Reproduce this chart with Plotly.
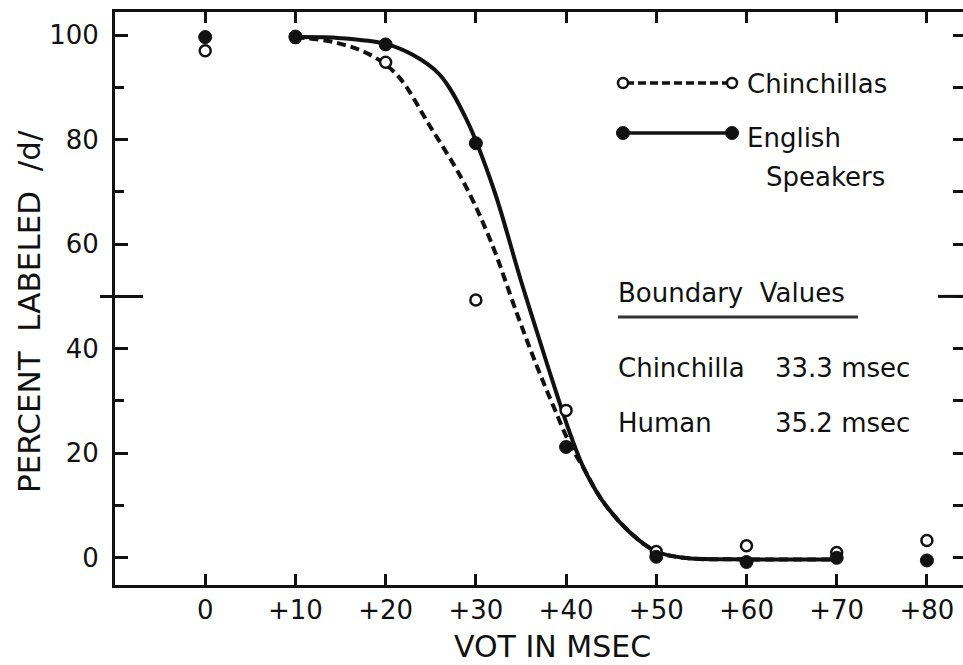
import plotly.graph_objects as go

# ---- data ----
vot_points = [0, 10, 20, 30, 40, 50, 60, 70, 80]
chinchilla_pct = [97.0, 99.5, 94.8, 49.3, 28.2, 1.2, 2.3, 1.0, 3.3]
english_pct = [99.6, 99.7, 98.2, 79.3, 21.2, 0.2, -0.8, 0.0, -0.5]

# smooth fitted curves
chin_curve_x = [10, 14.6, 18.3, 21.3, 24.9, 28.6, 31.6, 34.6, 36.8, 38.6, 40.5, 42, 44, 47, 50, 53, 60, 70]
chin_curve_y = [99.6, 98.5, 96.2, 92.3, 82.6, 72.0, 60.8, 46.5, 36.5, 29.0, 21.5, 17.0, 11.0, 5.0, 1.2, 0.0, -0.3, -0.3]
eng_curve_x = [10, 15, 20, 23, 26, 29, 32, 35, 38, 40.5, 42, 44, 47, 50, 53, 60, 70]
eng_curve_y = [99.6, 99.4, 98.3, 96.2, 92.4, 83.7, 70.4, 53.0, 36.5, 23.5, 17.0, 11.0, 5.0, 1.2, 0.0, -0.3, -0.3]

x_tickvals = [0, 10, 20, 30, 40, 50, 60, 70, 80]
x_ticktext = ["0", "+10", "+20", "+30", "+40", "+50", "+60", "+70", "+80"]
y_tickvals = [0, 20, 40, 60, 80, 100]

legend_lines = ["Chinchillas", "English", "Speakers"]
boundary_labels = ["Chinchilla", "Human"]
boundary_values = ["33.3 msec", "35.2 msec"]

# ---- layout geometry (pixels) ----
W, H = 963, 665
L, R, T, B = 115, 0, 12, 80
PW, PH = W - L - R, H - T - B


def px(xp):
    return (xp - L) / PW


def py(yp):
    return (H - B - yp) / PH


FONT = "DejaVu Sans"
BLACK = "#111111"

fig = go.Figure()

# curves
fig.add_trace(go.Scatter(x=chin_curve_x, y=chin_curve_y, mode="lines",
                         line=dict(color=BLACK, width=4, dash="9px,5px", shape="spline", smoothing=1.0),
                         hoverinfo="skip", showlegend=False))
fig.add_trace(go.Scatter(x=eng_curve_x, y=eng_curve_y, mode="lines",
                         line=dict(color=BLACK, width=4, shape="spline", smoothing=1.0),
                         hoverinfo="skip", showlegend=False))
# points
fig.add_trace(go.Scatter(x=vot_points, y=chinchilla_pct, mode="markers", name="Chinchillas",
                         marker=dict(symbol="circle", size=11, color="white",
                                     line=dict(color=BLACK, width=2.5)),
                         showlegend=False))
fig.add_trace(go.Scatter(x=vot_points, y=english_pct, mode="markers", name="English Speakers",
                         marker=dict(symbol="circle", size=13, color=BLACK,
                                     line=dict(color=BLACK, width=1)),
                         showlegend=False))
# trace so the right-hand tick axis is drawn
fig.add_trace(go.Scatter(x=[], y=[], yaxis="y2", showlegend=False))

shapes = []
annotations = []

# legend keys
leg_y = [83, 133]
for i, yy in enumerate(leg_y):
    shapes.append(dict(type="line", xref="paper", yref="paper",
                       x0=px(626), x1=px(729), y0=py(yy), y1=py(yy),
                       line=dict(color=BLACK, width=3.5, dash="8px,4px" if i == 0 else "solid")))
    for xc in (623, 732):
        r = 5 if i == 0 else 6.5
        shapes.append(dict(type="circle", xref="paper", yref="paper",
                           x0=px(xc - r), x1=px(xc + r), y0=py(yy + r), y1=py(yy - r),
                           fillcolor="white" if i == 0 else BLACK,
                           line=dict(color=BLACK, width=2.5 if i == 0 else 1)))

for txt, xx, yy in zip(legend_lines, [745, 745, 764], [84, 138, 177]):
    annotations.append(dict(text=txt, xref="paper", yref="paper", x=px(xx), y=py(yy),
                            xanchor="left", yanchor="middle", showarrow=False,
                            font=dict(family=FONT, size=26, color=BLACK)))

# boundary values block
annotations.append(dict(text="Boundary  Values", xref="paper", yref="paper", x=px(616), y=py(293),
                        xanchor="left", yanchor="middle", showarrow=False,
                        font=dict(family=FONT, size=26, color=BLACK)))
shapes.append(dict(type="line", xref="paper", yref="paper", x0=px(618), x1=px(858),
                   y0=py(317), y1=py(317), line=dict(color="#333333", width=3)))
for lab, val, yy in zip(boundary_labels, boundary_values, [368, 423]):
    annotations.append(dict(text=lab, xref="paper", yref="paper", x=px(616), y=py(yy),
                            xanchor="left", yanchor="middle", showarrow=False,
                            font=dict(family=FONT, size=26, color=BLACK)))
    annotations.append(dict(text=val, xref="paper", yref="paper", x=px(773), y=py(yy),
                            xanchor="left", yanchor="middle", showarrow=False,
                            font=dict(family=FONT, size=26, color=BLACK)))

# long 50% reference ticks on both sides
shapes.append(dict(type="line", xref="paper", yref="y", x0=px(100), x1=px(143), y0=50, y1=50,
                   line=dict(color=BLACK, width=3)))
shapes.append(dict(type="line", xref="paper", yref="y", x0=px(938), x1=px(963), y0=50, y1=50,
                   line=dict(color=BLACK, width=3)))

# axis titles
annotations.append(dict(text="VOT IN MSEC", xref="paper", yref="paper", x=px(552), y=py(646),
                        xanchor="center", yanchor="middle", showarrow=False,
                        font=dict(family=FONT, size=30, color=BLACK)))
annotations.append(dict(text="PERCENT  LABELED  /d/", xref="paper", yref="paper", x=px(29), y=py(312),
                        xanchor="center", yanchor="middle", showarrow=False, textangle=-90,
                        font=dict(family=FONT, size=31, color=BLACK)))

fig.update_layout(
    width=W, height=H,
    margin=dict(l=L, r=R, t=T, b=B),
    paper_bgcolor="white", plot_bgcolor="white",
    showlegend=False,
    font=dict(family=FONT, color=BLACK),
    xaxis=dict(range=[-10, 84.0], tickvals=x_tickvals, ticktext=x_ticktext,
               ticks="inside", ticklen=11, tickwidth=3, tickcolor=BLACK,
               showline=True, linewidth=3, linecolor=BLACK, mirror="ticks",
               showgrid=False, zeroline=False,
               tickfont=dict(family=FONT, size=26, color=BLACK)),
    yaxis=dict(range=[-5.2, 104.4], tickvals=y_tickvals,
               ticks="inside", ticklen=13, tickwidth=3, tickcolor=BLACK,
               minor=dict(dtick=10, tick0=0, ticks="inside", ticklen=9, tickwidth=3, tickcolor=BLACK),
               showline=True, linewidth=3, linecolor=BLACK,
               showgrid=False, zeroline=False, ticklabelstandoff=8,
               tickfont=dict(family=FONT, size=26, color=BLACK)),
    yaxis2=dict(range=[-5.2, 104.4], overlaying="y", side="right", dtick=10, tick0=0,
                ticks="inside", ticklen=10, tickwidth=3, tickcolor=BLACK,
                showline=False, showticklabels=False, showgrid=False, zeroline=False),
    shapes=shapes,
    annotations=annotations,
)

fig.write_html("out.html", config={"displayModeBar": False},
               post_script="document.body.style.margin='0px';document.body.style.overflow='hidden';")
